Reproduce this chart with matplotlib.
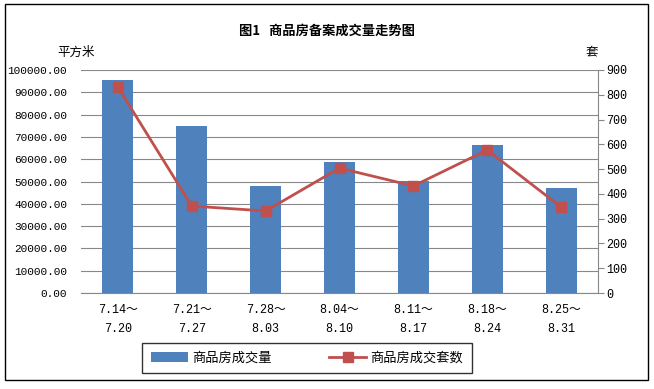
import matplotlib.pyplot as plt
import numpy as np
from matplotlib.patches import Rectangle

plt.rcParams['font.family'] = ['Noto Sans CJK SC', 'DejaVu Sans']
mono = ['Liberation Mono', 'Noto Sans CJK SC']

weeks = ['7.14～\n7.20', '7.21～\n7.27', '7.28～\n8.03', '8.04～\n8.10',
         '8.11～\n8.17', '8.18～\n8.24', '8.25～\n8.31']
area = [95500, 74900, 48000, 58700, 50200, 66400, 47100]
units = [831, 351, 331, 504, 432, 577, 347]

fig = plt.figure(figsize=(6.54, 3.89), dpi=100)
fig.patches.append(Rectangle((5 / 654, 9 / 389), 643 / 654, 376 / 389,
                             transform=fig.transFigure, fill=False,
                             edgecolor='black', linewidth=1))

ax = fig.add_axes([81 / 654, 96 / 389, 517 / 654, 223 / 389])
x = np.arange(len(weeks))
bars = ax.bar(x, area, width=0.42, color='#4f81bd', label='商品房成交量', zorder=2)
ax.set_xlim(-0.5, len(weeks) - 0.5)
ax.set_ylim(0, 100000)
ax.set_yticks(np.arange(0, 100001, 10000))
ax.set_yticklabels(['%.2f' % v for v in np.arange(0, 100001, 10000)],
                   family=mono, fontsize=8)
ax.yaxis.grid(True, color='#888888', linewidth=0.8, zorder=0)
ax.set_axisbelow(True)
ax.set_xticks(x)
ax.set_xticklabels(weeks, linespacing=1.8, family=mono, fontsize=8.5)
for s in ['top', 'left', 'right']:
    ax.spines[s].set_visible(False)
ax.spines['bottom'].set_color('#888888')
ax.tick_params(axis='y', length=0, pad=10)
ax.tick_params(axis='x', length=0, pad=8)

ax2 = ax.twinx()
line, = ax2.plot(x, units, color='#c0504d', linewidth=2, marker='s',
                 markersize=7, label='商品房成交套数', zorder=3)
ax2.set_ylim(0, 900)
ax2.set_yticks(np.arange(0, 901, 100))
ax2.set_yticklabels([str(v) for v in range(0, 901, 100)], family=mono, fontsize=8.5)
for s in ['top', 'left', 'bottom']:
    ax2.spines[s].set_visible(False)
ax2.spines['right'].set_color('#888888')
ax2.tick_params(axis='y', length=4, color='#888888', pad=2)

fig.text(0.5, 1 - 31 / 389, '图1   商品房备案成交量走势图', ha='center',
         va='center', fontsize=9.5, fontweight='bold')
fig.text(76 / 654, 1 - 52 / 389, '平方米', ha='center', va='center', fontsize=9)
fig.text(592 / 654, 1 - 52 / 389, '套', ha='center', va='center', fontsize=9)

leg = fig.legend([bars, line], ['商品房成交量', '商品房成交套数'], loc='center',
                 bbox_to_anchor=(307 / 654, 1 - 358 / 389), ncol=2,
                 frameon=True, fancybox=False, edgecolor='black',
                 fontsize=9.5, handlelength=2.8, handletextpad=0.3,
                 columnspacing=4.4, borderpad=0.65, borderaxespad=0)
leg.get_frame().set_linewidth(1)
for t in leg.get_texts():
    t.set_family(['Noto Sans CJK SC', 'DejaVu Sans'])

fig.savefig('out.png', dpi=100)
